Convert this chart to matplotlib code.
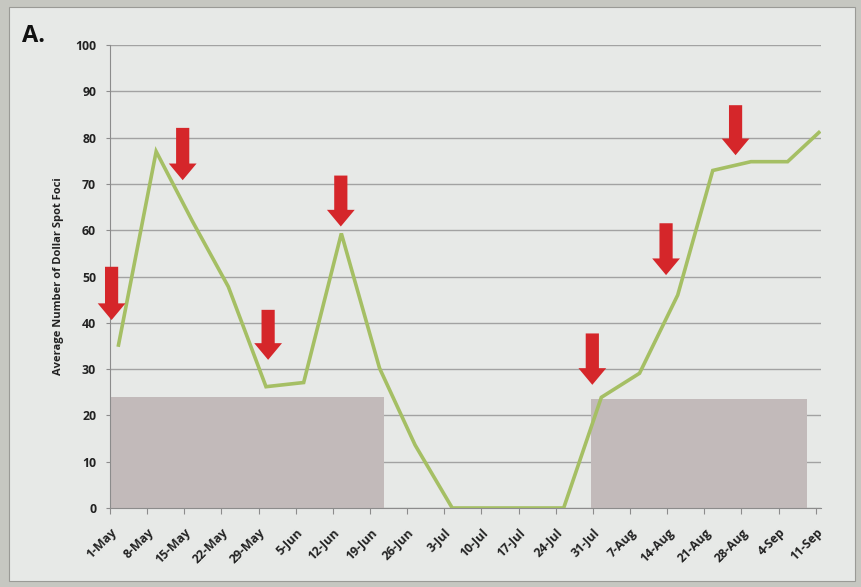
import matplotlib
matplotlib.use("Agg")
import matplotlib.pyplot as plt
from matplotlib.patches import Rectangle

# sample dates as days after 1 May
sample_day = [1.6, 8.7, 15.5, 22.3, 29.4, 36.5, 43.6, 50.8, 57.5, 64.5,
              71.5, 78.5, 85.5, 92.6, 99.8, 107.0, 113.6, 120.8, 127.7, 133.6]
foci = [35.2, 77.0, 62.0, 47.8, 26.2, 27.1, 59.3, 30.2, 13.6, 0.0,
        0.0, 0.0, 0.0, 23.9, 29.1, 46.0, 72.9, 74.8, 74.8, 81.1]

tick_labels = ['1-May', '8-May', '15-May', '22-May', '29-May', '5-Jun', '12-Jun',
               '19-Jun', '26-Jun', '3-Jul', '10-Jul', '17-Jul', '24-Jul', '31-Jul',
               '7-Aug', '14-Aug', '21-Aug', '28-Aug', '4-Sep', '11-Sep']

# shaded periods: (start day, end day, height)
shaded = [(0.0, 51.7, 24.0), (90.7, 131.3, 23.6)]

# application arrows: (day, top value, tip value)
arrow_day = [0.3, 13.7, 29.8, 43.5, 90.9, 104.8, 117.9]
arrow_top = [52.1, 82.1, 42.8, 71.8, 37.7, 61.5, 87.0]
arrow_tip = [40.6, 70.8, 32.0, 60.8, 26.6, 50.3, 76.2]

plt.rcParams['font.family'] = ['Open Sans', 'DejaVu Sans']

fig = plt.figure(figsize=(8.61, 5.87), dpi=100, facecolor='#c6c7c1')
panel = Rectangle((9 / 861, 6 / 587), 846 / 861, 574 / 587,
                  transform=fig.transFigure, facecolor='#e7e9e7',
                  edgecolor='#9a9a96', linewidth=0.8, zorder=-5)
fig.patches.append(panel)

ax = fig.add_axes([110 / 861, 79 / 587, 711 / 861, 463 / 587])
ax.set_facecolor('none')
ax.set_zorder(2)

for start, end, h in shaded:
    ax.add_patch(Rectangle((start, 0), end - start, h, facecolor='#c2baba',
                           edgecolor='none', zorder=1))

ax.plot(sample_day, foci, color='#a5bf64', linewidth=2.6, zorder=3,
        solid_joinstyle='miter')

for d, top, tip in zip(arrow_day, arrow_top, arrow_tip):
    ax.annotate('', xy=(d, tip), xytext=(d, top),
                arrowprops=dict(arrowstyle='simple,head_length=1.2,head_width=2.0,tail_width=0.95',
                                mutation_scale=10, facecolor='#d5262a',
                                edgecolor='none', shrinkA=0, shrinkB=0),
                zorder=4)

ax.set_xlim(0, 134)
ax.set_ylim(0, 100)
ax.set_yticks(range(0, 101, 10))
ax.set_xticks([7 * i for i in range(len(tick_labels))])
ax.set_xticklabels(tick_labels, rotation=45, ha='right', rotation_mode='anchor',
                   fontsize=8.8, fontweight='bold', color='#222222')
for lab in ax.get_yticklabels():
    lab.set_fontsize(8.8)
    lab.set_fontweight('bold')
    lab.set_color('#222222')

ax.yaxis.grid(True, color='#a2a2a2', linewidth=1.0, zorder=0)
ax.set_axisbelow(True)
for side in ['top', 'right']:
    ax.spines[side].set_visible(False)
ax.spines['left'].set_color('#8c8c8c')
ax.spines['bottom'].set_color('#8c8c8c')
ax.tick_params(axis='x', length=4, color='#8c8c8c', pad=9)
ax.tick_params(axis='y', length=3, color='#8c8c8c', pad=7)

ax.set_ylabel('Average Number of Dollar Spot Foci', fontsize=8, fontweight='bold',
              color='#222222', labelpad=8)

fig.text(22 / 861, 1 - 36 / 587, 'A.', fontsize=17, fontweight='bold',
         color='#111111', va='center', ha='left')

fig.savefig('out.png', dpi=100, facecolor=fig.get_facecolor())
